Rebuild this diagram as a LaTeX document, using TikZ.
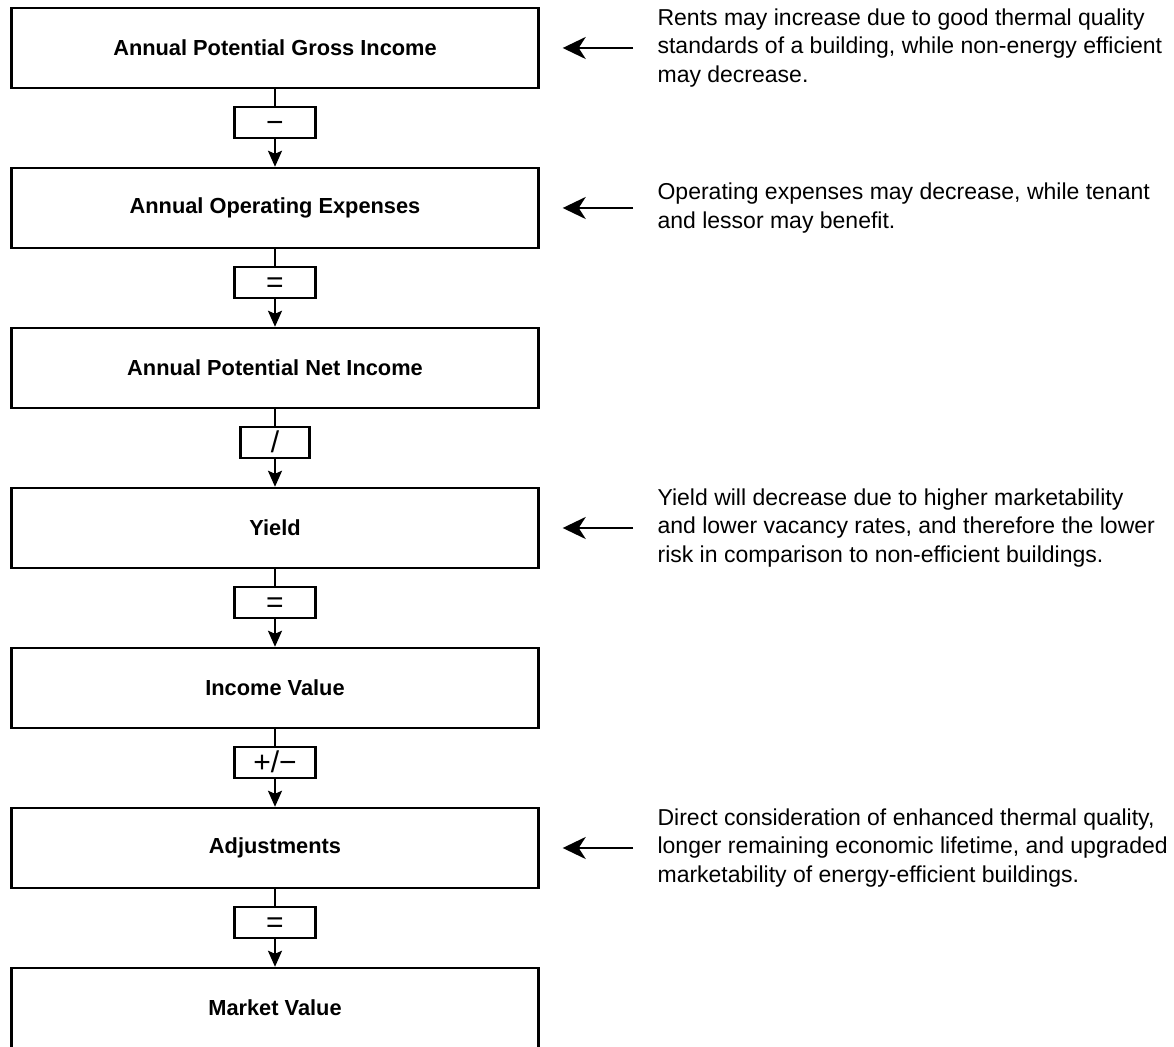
\documentclass[tikz,border=0pt]{standalone}
\usepackage{fontspec}
\setmainfont{Liberation Sans}
\usetikzlibrary{arrows.meta, positioning}
\tikzset{
	stage/.style={rectangle, draw=black, line width=1.2pt, minimum width=263.5pt, minimum height=40pt, inner sep=0pt, align=center, font=\bfseries\fontsize{10.9}{13}\selectfont},
	opbox/.style={rectangle, draw=black, line width=1.2pt, minimum width=40.5pt, minimum height=15.5pt, inner sep=0pt, text height=9.6pt, text depth=0pt, font=\fontsize{15}{17}\selectfont},
	note/.style={inner sep=0pt, align=left, font=\fontsize{11.5}{14.25}\selectfont},
	link/.style={line width=1.2pt},
	arrow/.style={-{Stealth[length=8pt, width=7pt, inset=1.5pt]}, line width=1.2pt},
	sidearrow/.style={-{Stealth[length=11.5pt, width=11pt, inset=3.5pt]}, line width=1.3pt},
}
\begin{document}
\begin{tikzpicture}
	\useasboundingbox (0,0) rectangle (587pt,-523.5pt);
	\node[stage] (gross) at (137.5pt,-24pt) {Annual Potential Gross Income};
	\node[opbox, below=8.3pt of gross] (minus) {−};
	\node[stage, below=13.8pt of minus] (opex) {Annual Operating Expenses};
	\node[opbox, below=8.3pt of opex] (equals1) {=};
	\node[stage, below=13.8pt of equals1] (net) {Annual Potential Net Income};
	\node[opbox, below=8.3pt of net, minimum width=34.5pt] (divide) {/};
	\node[stage, below=13.8pt of divide] (yield) {Yield};
	\node[opbox, below=8.3pt of yield] (equals2) {=};
	\node[stage, below=13.8pt of equals2] (income) {Income Value};
	\node[opbox, below=8.3pt of income] (plusminus) {+/−};
	\node[stage, below=13.8pt of plusminus] (adjust) {Adjustments};
	\node[opbox, below=8.3pt of adjust] (equals3) {=};
	\node[stage, below=13.8pt of equals3] (market) {Market Value};
	\node[note, right=58.75pt of gross] (rentnote) {Rents may increase due to good thermal quality\\standards of a building, while non-energy efficient\\may decrease.};
	\node[note, right=58.75pt of opex] (opexnote) {Operating expenses may decrease, while tenant\\and lessor may benefit.};
	\node[note, right=58.75pt of yield] (yieldnote) {Yield will decrease due to higher marketability\\and lower vacancy rates, and therefore the lower\\risk in comparison to non-efficient buildings.};
	\node[note, right=58.75pt of adjust] (adjustnote) {Direct consideration of enhanced thermal quality,\\longer remaining economic lifetime, and upgraded\\marketability of energy-efficient buildings.};
	\draw[link] (gross) -- (minus);
	\draw[arrow] (minus) -- (opex);
	\draw[link] (opex) -- (equals1);
	\draw[arrow] (equals1) -- (net);
	\draw[link] (net) -- (divide);
	\draw[arrow] (divide) -- (yield);
	\draw[link] (yield) -- (equals2);
	\draw[arrow] (equals2) -- (income);
	\draw[link] (income) -- (plusminus);
	\draw[arrow] (plusminus) -- (adjust);
	\draw[link] (adjust) -- (equals3);
	\draw[arrow] (equals3) -- (market);
	\draw[sidearrow] ([xshift=-12pt]rentnote.west) -- ([xshift=11.5pt]gross.east);
	\draw[sidearrow] ([xshift=-12pt]opexnote.west) -- ([xshift=11.5pt]opex.east);
	\draw[sidearrow] ([xshift=-12pt]yieldnote.west) -- ([xshift=11.5pt]yield.east);
	\draw[sidearrow] ([xshift=-12pt]adjustnote.west) -- ([xshift=11.5pt]adjust.east);
\end{tikzpicture}
\end{document}
